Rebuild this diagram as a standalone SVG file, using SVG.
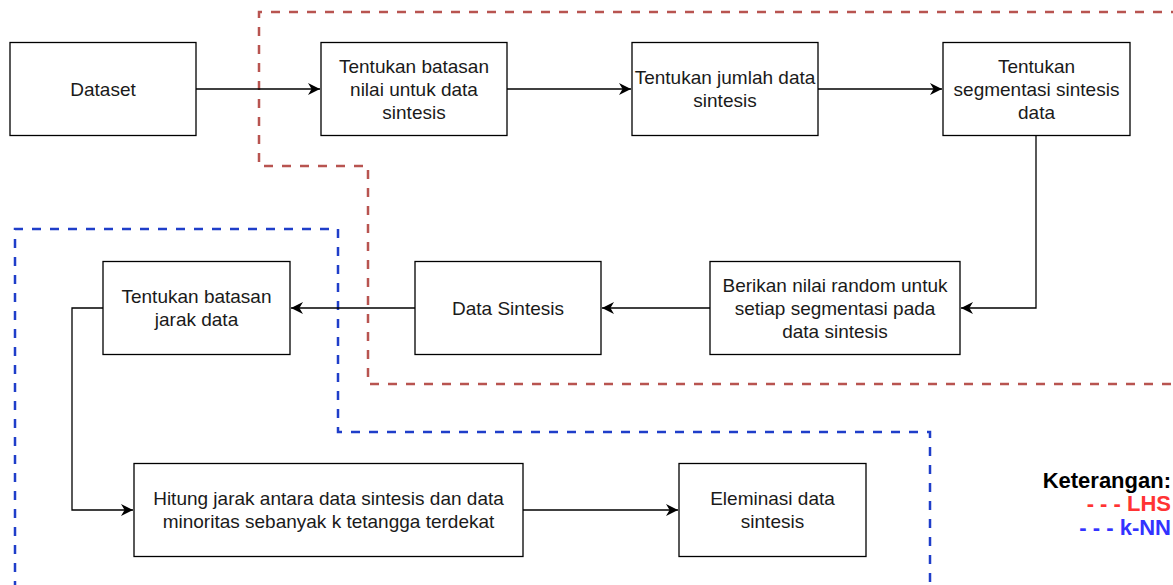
<svg xmlns="http://www.w3.org/2000/svg" width="1173" height="585" viewBox="0 0 1173 585">
<defs>
<style>
.box{fill:#fff;stroke:#000;stroke-width:1.3}
.t{font-family:"Liberation Sans",Arial,sans-serif;font-size:19px;fill:#1a1a1a;text-anchor:middle}
.edge{fill:none;stroke:#000;stroke-width:1.3}
.lhs{fill:none;stroke:#b85450;stroke-width:2.5;stroke-dasharray:9 9}
.knn{fill:none;stroke:#1f3ec9;stroke-width:2.5;stroke-dasharray:9 9}
.leg{font-family:"Liberation Sans",Arial,sans-serif;font-size:22px;font-weight:bold;text-anchor:end}
</style>
<marker id="arr" markerWidth="12" markerHeight="12" refX="10" refY="5" orient="auto" markerUnits="userSpaceOnUse" viewBox="0 0 10 10">
<path d="M0,0 L10,5 L0,10 L3,5 Z" fill="#000"/>
</marker>
</defs>
<rect width="1173" height="585" fill="#fff"/>
<g id="regions">
<path class="lhs" d="M1180,12 L259,12 L259,166 L368,166 L368,384 L1180,384"/>
<path class="knn" d="M15,590 L15,229 L338,229 L338,432 L930,432 L930,590"/>
</g>
<g id="connectors">
<path class="edge" d="M196,89 L320,89" marker-end="url(#arr)"/>
<path class="edge" d="M507,89 L631,89" marker-end="url(#arr)"/>
<path class="edge" d="M818,89 L942,89" marker-end="url(#arr)"/>
<path class="edge" d="M1036,135.5 L1036,308 L961,308" marker-end="url(#arr)"/>
<path class="edge" d="M710,308 L602,308" marker-end="url(#arr)"/>
<path class="edge" d="M415,308 L291,308" marker-end="url(#arr)"/>
<path class="edge" d="M103,308 L72,308 L72,510 L133,510" marker-end="url(#arr)"/>
<path class="edge" d="M523,510 L678,510" marker-end="url(#arr)"/>
</g>
<g id="n1"><rect class="box" x="10" y="42.5" width="186" height="93"/><text class="t" x="103" y="96">Dataset</text></g>
<g id="n2"><rect class="box" x="321" y="42.5" width="186" height="93"/><text class="t" x="414" y="73">Tentukan batasan</text><text class="t" x="414" y="96">nilai untuk data</text><text class="t" x="414" y="119">sintesis</text></g>
<g id="n3"><rect class="box" x="632" y="42.5" width="186" height="93"/><text class="t" x="725" y="84">Tentukan jumlah data</text><text class="t" x="725" y="107">sintesis</text></g>
<g id="n4"><rect class="box" x="943" y="42.5" width="187" height="93"/><text class="t" x="1036.5" y="73">Tentukan</text><text class="t" x="1036.5" y="96">segmentasi sintesis</text><text class="t" x="1036.5" y="119">data</text></g>
<g id="n5"><rect class="box" x="710" y="261.5" width="250" height="93"/><text class="t" x="835" y="292">Berikan nilai random untuk</text><text class="t" x="835" y="315">setiap segmentasi pada</text><text class="t" x="835" y="338">data sintesis</text></g>
<g id="n6"><rect class="box" x="415" y="261.5" width="186" height="93"/><text class="t" x="508" y="315">Data Sintesis</text></g>
<g id="n7"><rect class="box" x="103" y="261.5" width="187" height="93"/><text class="t" x="196.5" y="303">Tentukan batasan</text><text class="t" x="196.5" y="326">jarak data</text></g>
<g id="n8"><rect class="box" x="134" y="463.5" width="389" height="93"/><text class="t" x="328.5" y="505">Hitung jarak antara data sintesis dan data</text><text class="t" x="328.5" y="528">minoritas sebanyak k tetangga terdekat</text></g>
<g id="n9"><rect class="box" x="679" y="463.5" width="187" height="93"/><text class="t" x="772.5" y="505">Eleminasi data</text><text class="t" x="772.5" y="528">sintesis</text></g>
<g id="legend">
<text class="leg" x="1171" y="488" fill="#000">Keterangan:</text>
<text class="leg" x="1171" y="511" fill="#ff3333">- - - LHS</text>
<text class="leg" x="1171" y="535" fill="#3333ff">- - - k-NN</text>
</g>
</svg>
